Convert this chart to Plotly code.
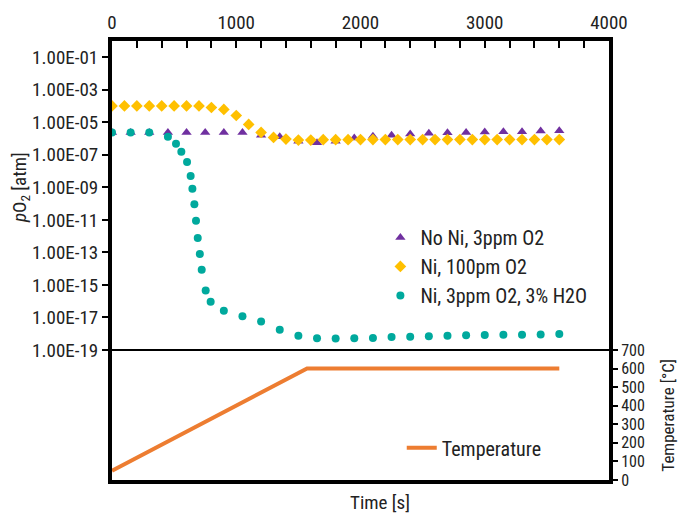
import plotly.graph_objects as go

# ---------------- data ----------------
t_noni = [0, 150, 300, 450, 600, 750, 900, 1050, 1200, 1350, 1500, 1650, 1800, 1950, 2100,
          2250, 2400, 2550, 2700, 2850, 3000, 3150, 3300, 3450, 3600]
log_noni = [-5.62, -5.62, -5.62, -5.62, -5.62, -5.62, -5.62, -5.62, -5.79, -5.89, -6.17, -6.26,
            -6.17, -5.97, -5.85, -5.79, -5.72, -5.68, -5.64, -5.62, -5.60, -5.58, -5.58, -5.54, -5.52]
po2_noni = [10 ** v for v in log_noni]

t_ni100 = list(range(0, 3700, 100))
log_ni100 = [-3.99, -3.99, -3.99, -3.99, -3.99, -3.99, -3.99, -3.99, -4.09, -4.21, -4.58, -5.13,
             -5.62, -5.93, -6.03, -6.09, -6.09, -6.07, -6.07, -6.07, -6.06, -6.06, -6.06, -6.06,
             -6.06, -6.06, -6.06, -6.06, -6.06, -6.06, -6.06, -6.06, -6.06, -6.06, -6.06, -6.06, -6.06]
po2_ni100 = [10 ** v for v in log_ni100]

t_h2o = [0, 150, 300, 450, 515, 558, 604, 633, 647, 663, 676, 690, 707, 722, 754, 794, 900,
         1050, 1200, 1350, 1500, 1650, 1800, 1950, 2100, 2250, 2400, 2550, 2700, 2850, 3000,
         3150, 3300, 3450, 3600]
log_h2o = [-5.62, -5.62, -5.62, -5.89, -6.32, -6.81, -7.44, -8.30, -9.08, -10.04, -11.06,
           -12.12, -13.09, -14.07, -15.34, -16.03, -16.58, -16.93, -17.24, -17.75, -18.13,
           -18.28, -18.30, -18.28, -18.26, -18.20, -18.18, -18.16, -18.12, -18.10, -18.07,
           -18.06, -18.06, -18.04, -18.01]
po2_h2o = [10 ** v for v in log_h2o]

t_temp = [0, 1570, 3600]
temp = [50, 600, 600]

y_tickvals = [10 ** -e for e in range(1, 20, 2)]
y_ticktext = ["1.00E-%02d" % e for e in range(1, 20, 2)]
x_tickvals = [0, 1000, 2000, 3000, 4000]
t_tickvals = [0, 100, 200, 300, 400, 500, 600, 700]

FONT = "Roboto Condensed, Liberation Sans Narrow, DejaVu Sans Condensed, Roboto, sans-serif"
FS = 19
split = 130 / 439

fig = go.Figure()
fig.add_trace(go.Scatter(x=t_noni, y=po2_noni, mode="markers", name="No Ni, 3ppm O2",
                         marker=dict(symbol="triangle-up", size=9, color="#7030A0"),
                         xaxis="x", yaxis="y", legend="legend"))
fig.add_trace(go.Scatter(x=t_ni100, y=po2_ni100, mode="markers", name="Ni, 100pm O2",
                         marker=dict(symbol="diamond", size=9, color="#FFC000"),
                         xaxis="x", yaxis="y", legend="legend"))
fig.add_trace(go.Scatter(x=t_h2o, y=po2_h2o, mode="markers", name="Ni, 3ppm O2, 3% H2O",
                         marker=dict(symbol="circle", size=8, color="#00A99D"),
                         xaxis="x", yaxis="y", legend="legend"))
fig.add_trace(go.Scatter(x=t_temp, y=temp, mode="lines", name="Temperature",
                         line=dict(color="#ED7D31", width=4),
                         xaxis="x2", yaxis="y2", legend="legend2"))

fig.update_layout(
    width=679, height=514,
    margin=dict(l=112, r=70, t=41, b=34),
    paper_bgcolor="white", plot_bgcolor="white",
    font=dict(family=FONT, size=FS, color="#222222"),
    xaxis=dict(domain=[0, 1], anchor="y", side="top", range=[0, 4000],
               tickvals=x_tickvals, ticks="inside", ticklen=7, tickwidth=2, tickcolor="black",
               minor=dict(dtick=200, ticks="inside", ticklen=7, tickwidth=2, tickcolor="black"),
               showline=True, linewidth=4, linecolor="black", showgrid=False, zeroline=False,
               tickfont=dict(size=FS)),
    yaxis=dict(domain=[split, 1], anchor="x", type="log", range=[-19, 0],
               tickvals=y_tickvals, ticktext=y_ticktext, ticks="outside", ticklen=6,
               tickwidth=2, tickcolor="black", showline=True, linewidth=4, linecolor="black",
               mirror=True, showgrid=False, zeroline=False, tickfont=dict(size=FS)),
    xaxis2=dict(domain=[0, 1], anchor="y2", range=[0, 4000], showticklabels=False,
                ticks="", showline=True, linewidth=4, linecolor="black", showgrid=False,
                zeroline=False, matches="x"),
    yaxis2=dict(domain=[0, split], anchor="x2", side="right", range=[0, 700],
                tickvals=t_tickvals, ticks="outside", ticklen=5, tickwidth=2, tickcolor="black",
                showline=True, linewidth=4, linecolor="black", mirror=True,
                showgrid=False, zeroline=False, tickfont=dict(size=16)),
    legend=dict(x=0.54, y=0.597, xanchor="left", yanchor="top", bgcolor="rgba(0,0,0,0)",
                font=dict(size=20), tracegroupgap=0),
    legend2=dict(x=0.583, y=0.118, xanchor="left", yanchor="top", bgcolor="rgba(0,0,0,0)",
                 font=dict(size=20)),
    shapes=[
        dict(type="line", xref="paper", yref="paper", x0=0, x1=1, y0=split, y1=split,
             line=dict(color="black", width=2)),
    ],
    annotations=[
        dict(text="<i>p</i>O<sub>2</sub> [atm]", xref="paper", yref="paper",
             x=-0.185, y=0.665, textangle=-90, showarrow=False, font=dict(size=FS),
             xanchor="center", yanchor="middle"),
        dict(text="Temperature [°C]", xref="paper", yref="paper",
             x=1.118, y=split / 2, textangle=-90, showarrow=False, font=dict(size=17),
             xanchor="center", yanchor="middle"),
        dict(text="Time [s]", xref="paper", yref="paper", x=0.539, y=-0.052,
             showarrow=False, font=dict(size=FS), xanchor="center", yanchor="middle"),
    ],
)

fig.write_html("out.html")
